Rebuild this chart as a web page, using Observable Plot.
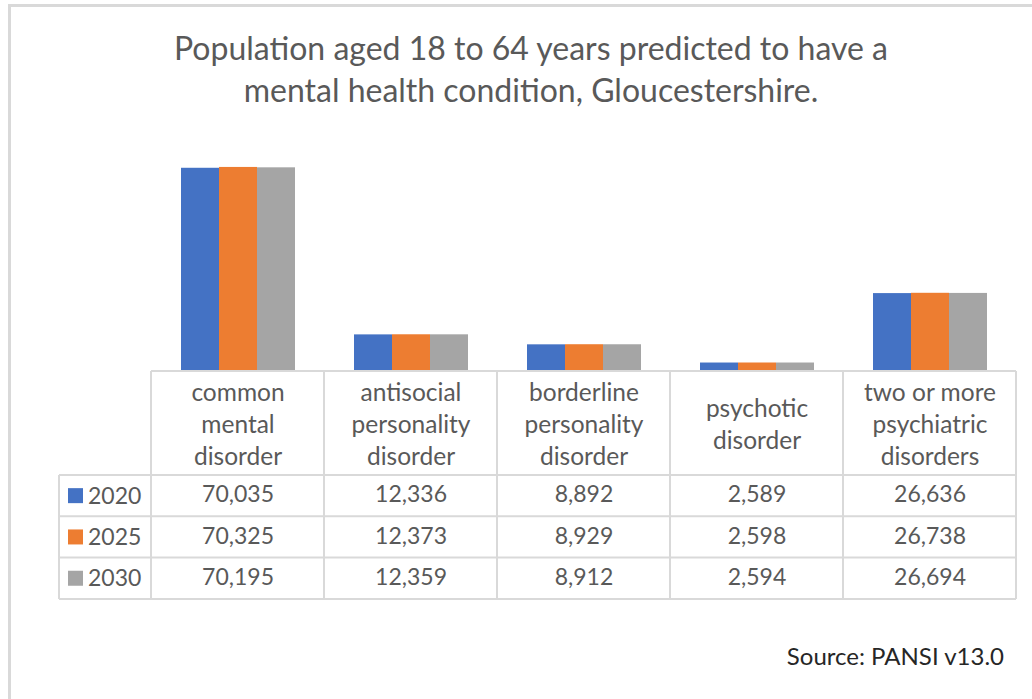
<!DOCTYPE html>
<html>
<head>
<meta charset="utf-8">
<script src="https://cdn.jsdelivr.net/npm/d3@7"></script>
<script src="https://cdn.jsdelivr.net/npm/@observablehq/plot@0.6"></script>
<style>
  body { margin: 0; background: #fff; }
  #wrap { position: relative; width: 1032px; height: 699px; overflow: hidden; font-family: Lato, "Open Sans", sans-serif; background: #fff; }
  #border { position: absolute; left: 8px; top: 4px; width: 1200px; height: 1200px; border: 3px solid #d9d9d9; box-sizing: border-box; }
  #title { position: absolute; left: 0; top: 27px; width: 1062px; text-align: center; color: #595959; font-size: 32px; line-height: 42px; }
  #source { position: absolute; right: 28px; top: 641px; font-size: 24px; color: #262626; }
  #chart { position: absolute; left: 0; top: 0; }
</style>
</head>
<body>
<div id="wrap">
  <div id="border"></div>
  <div id="chart"></div>
  <div id="title">Population aged 18 to 64 years predicted to have a<br>mental health condition, Gloucestershire.</div>
  <div id="source">Source: PANSI v13.0</div>
</div>
<script>
const categories = ["common mental disorder", "antisocial personality disorder", "borderline personality disorder", "psychotic disorder", "two or more psychiatric disorders"];
const categoryLabels = ["common\nmental\ndisorder", "antisocial\npersonality\ndisorder", "borderline\npersonality\ndisorder", "psychotic\ndisorder", "two or more\npsychiatric\ndisorders"];
const years = ["2020", "2025", "2030"];
const colors = ["#4472C4", "#ED7D31", "#A5A5A5"];
const values2020 = [70035, 12336, 8892, 2589, 26636];
const values2025 = [70325, 12373, 8929, 2598, 26738];
const values2030 = [70195, 12359, 8912, 2594, 26694];

const series = [values2020, values2025, values2030];
const rows = [];
categories.forEach((c, i) => years.forEach((y, j) => rows.push({category: c, label: categoryLabels[i], year: y, value: series[j][i]})));

const fmt = d3.format(",");
const textColor = "#595959";
const gridColor = "#d9d9d9";
const font = "Lato, 'Open Sans', sans-serif";

// table row offsets below baseline (centers)
const headerDy = 52;
const rowDy = [124, 166, 207];

const plot = Plot.plot({
  width: 1032,
  height: 699,
  marginLeft: 150,
  marginRight: 15,
  marginTop: 139,
  marginBottom: 329,
  style: {fontFamily: font, background: "transparent"},
  facet: {data: rows, x: "category"},
  fx: {domain: categories, padding: 0, axis: null, label: null},
  x: {domain: years, paddingInner: 0, paddingOuter: 0.77, axis: null},
  y: {domain: [0, 80000], axis: null},
  color: {domain: years, range: colors},
  marks: [
    Plot.barY(rows, {x: "year", y: "value", fill: "year"}),
    Plot.text(rows, {filter: d => d.year === "2020", text: "label", frameAnchor: "bottom", dy: headerDy, lineAnchor: "middle", lineHeight: 1.3, fontSize: 24.5, fill: textColor}),
    ...years.map((yr, j) => Plot.text(rows, {filter: d => d.year === yr, text: d => fmt(d.value), frameAnchor: "bottom", dy: rowDy[j], lineAnchor: "middle", fontSize: 23, fill: textColor}))
  ]
});
document.getElementById("chart").appendChild(plot);

// Data table grid and legend keys, positioned with the plot's own fx scale
const fx = plot.scale("fx");
const yS = plot.scale("y");
const base = yS.apply(0);
const left = d3.min(categories, c => fx.apply(c));
const right = d3.max(categories, c => fx.apply(c)) + fx.bandwidth;
const svg = d3.select(plot);
const g = svg.append("g").attr("stroke", gridColor).attr("stroke-width", 2);
const headerBottom = base + 105;
const rowH = 41.3;
const tableBottom = headerBottom + 3 * rowH;
const keyLeft = 59;
// header top line (axis)
g.append("line").attr("x1", left).attr("x2", right).attr("y1", base + 1).attr("y2", base + 1);
// row lines
for (let k = 0; k <= 3; k++) {
  const yy = headerBottom + k * rowH;
  g.append("line").attr("x1", keyLeft).attr("x2", right).attr("y1", yy).attr("y2", yy);
}
// verticals
categories.forEach(c => {
  const xx = fx.apply(c);
  g.append("line").attr("x1", xx).attr("x2", xx).attr("y1", base + 1).attr("y2", tableBottom);
});
g.append("line").attr("x1", right).attr("x2", right).attr("y1", base + 1).attr("y2", tableBottom);
g.append("line").attr("x1", keyLeft).attr("x2", keyLeft).attr("y1", headerBottom).attr("y2", tableBottom);
// legend keys
years.forEach((yr, j) => {
  const cy = headerBottom + (j + 0.5) * rowH;
  svg.append("rect").attr("x", 68).attr("y", cy - 7.5).attr("width", 15).attr("height", 15).attr("fill", colors[j]);
  svg.append("text").attr("x", 88).attr("y", cy).attr("dy", "0.35em").attr("text-anchor", "start")
    .attr("font-size", 23).attr("fill", textColor).attr("font-family", font).text(yr);
});
</script>
</body>
</html>
